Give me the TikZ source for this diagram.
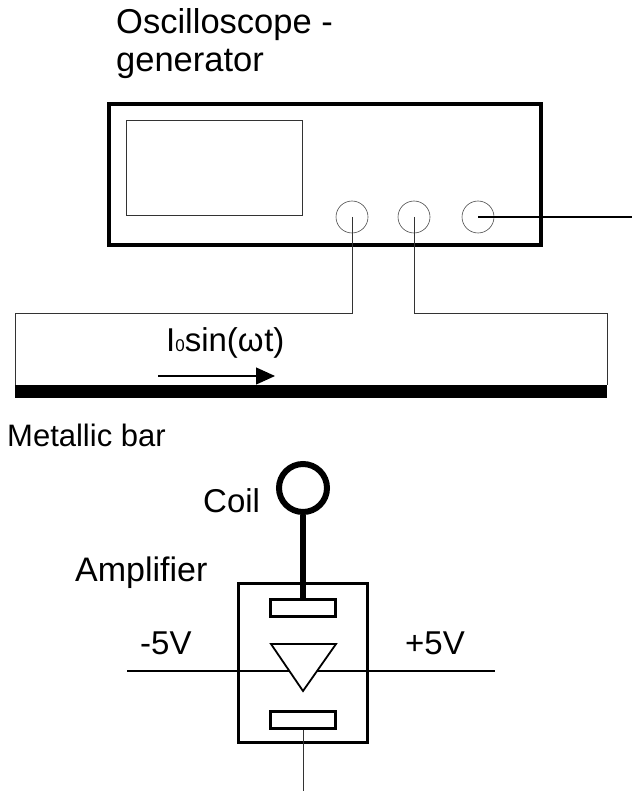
\documentclass[tikz,border=0pt]{standalone}
\usepackage{fontspec}
\setmainfont{Liberation Sans}
\usetikzlibrary{shapes}
\usetikzlibrary{arrows.meta}

\tikzset{
  label text/.style={inner sep=0pt, anchor=base west, font=\fontsize{33}{33}\selectfont},
  knob/.style={circle, draw=black!70, line width=0.6pt, minimum size=32pt, inner sep=0pt},
  plate/.style={rectangle, draw=black, line width=3pt, minimum width=65pt, minimum height=17pt, inner sep=0pt},
  wire/.style={draw=black!80, line width=1pt}
}

\begin{document}
\begin{tikzpicture}[x=1pt,y=-1pt]
\useasboundingbox (0,0) rectangle (632,791);
\node[label text, font=\fontsize{34.5}{34.5}\selectfont] (scopetitle) at (116,34) {Oscilloscope -};
\node[label text, font=\fontsize{34.5}{34.5}\selectfont] (scopetitle2) at (116,72) {generator};
\node[draw=black, line width=3.5pt, minimum width=432pt, minimum height=141pt, inner sep=0pt] (scope) at (325,174.5) {};
\node[draw=black!80, line width=1pt, minimum width=176pt, minimum height=95pt, inner sep=0pt] (screen) at (214,168) {};
\node[knob] (knoba) at (352,217) {};
\node[knob] (knobb) at (414,217) {};
\node[knob] (knobc) at (478,217) {};
\coordinate (out) at (632,217);
\draw[black, line width=1.2pt] (knobc.center) -- (out);
\node[fill=black, minimum width=592pt, minimum height=13pt, inner sep=0pt] (bar) at (311,391.5) {};
\coordinate (cornera) at (352,313);
\coordinate (cornerb) at (414,313);
\coordinate (enda) at (15,313);
\coordinate (endb) at (607,313);
\draw[wire] (knoba.center) -- (cornera) -- (enda) -- (enda |- bar.north);
\draw[wire] (knobb.center) -- (cornerb) -- (endb) -- (endb |- bar.north);
\node[label text] (current) at (166,351) {I{\fontsize{17}{17}\selectfont 0}sin(ω\kern0.5pt t)};
\coordinate (arrowstart) at (158,376);
\coordinate (arrowend) at (275,376);
\draw[-{Triangle[length=19pt,width=17pt]}, line width=1.2pt] (arrowstart) -- (arrowend);
\node[label text, font=\fontsize{31}{31}\selectfont] (bartitle) at (7,446) {Metallic bar};
\node[label text] (coiltitle) at (203,512) {Coil};
\node[label text, font=\fontsize{34}{34}\selectfont] (amptitle) at (75,581) {Amplifier};
\node[circle, draw=black, line width=6pt, minimum size=48pt, inner sep=0pt] (coil) at (303,488) {};
\node[draw=black, line width=3pt, minimum width=129pt, minimum height=159pt, inner sep=0pt] (amp) at (303,663) {};
\node[plate] (plateup) at (303,608) {};
\node[plate] (platedown) at (303,720) {};
\draw[black, line width=6pt] (coil) -- (plateup);
\coordinate (minus) at (127,671);
\coordinate (plus) at (495,671);
\draw[black, line width=1.6pt] (minus) -- (plus);
\node[label text] (minustitle) at (140,654) {-5V};
\node[label text] (plustitle) at (405,654) {+5V};
\coordinate (triA) at (271,644);
\coordinate (triB) at (336,644);
\coordinate (triC) at (303,691);
\draw[fill=white, line width=1.8pt] (triA) -- (triB) -- (triC) -- cycle;
\coordinate (ground) at (303,791);
\draw[wire] (platedown.south) -- (ground);
\end{tikzpicture}
\end{document}
